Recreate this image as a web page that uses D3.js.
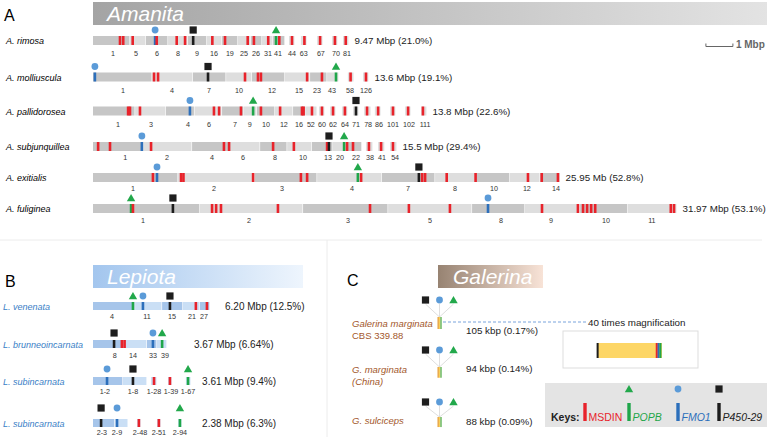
<!DOCTYPE html>
<html><head><meta charset="utf-8">
<script src="https://cdn.jsdelivr.net/npm/d3@7"></script>
<style>body{margin:0;background:#fff}svg{display:block;font-family:"Liberation Sans",Arial,sans-serif}</style>
</head><body><svg id="c" width="767" height="437"></svg>
<script>
// ---------- DATA (positions in Mbp along each assembled track) ----------
const amanitaSpecies = ["A. rimosa","A. molliuscula","A. pallidorosea","A. subjunquillea","A. exitialis","A. fuliginea"];
const amanitaSizes = ["9.47 Mbp (21.0%)","13.6 Mbp (19.1%)","13.8 Mbp (22.6%)","15.5 Mbp (29.4%)","25.95 Mb (52.8%)","31.97 Mbp (53.1%)"];
const amanitaSegments = [
  [[0,1.37],[1.37,1.96],[1.96,2.78],[2.78,3.52],[3.52,4.22],[4.22,4.78],[4.78,5.37],[5.37,5.85],[5.85,6.26],[6.26,6.67],[6.67,7.11],[7.26,7.48],[7.70,7.93],[8.30,8.52],[8.85,9.07],[9.26,9.48]],
  [[0,2.19],[2.19,3.70],[3.70,4.93],[4.93,5.89],[5.89,7.11],[7.11,8.04],[8.04,8.67],[8.67,9.11],[9.44,9.67],[10.0,10.22]],
  [[0,1.56],[1.56,2.70],[2.70,3.76],[3.76,4.78],[4.78,5.59],[5.59,6.07],[6.07,6.74],[6.74,7.41],[7.41,7.89],[7.89,8.30],[8.37,8.59],[8.78,9.00],[9.22,9.44],[9.63,9.85],[10.04,10.30],[10.44,10.67],[11.0,11.22],[11.56,11.78],[12.15,12.37]],
  [[0,1.89],[1.89,3.67],[3.67,5.07],[5.07,6.19],[6.19,7.19],[7.19,8.11],[8.11,8.89],[8.89,9.44],[9.44,9.96],[10.11,10.37],[10.56,10.81],[11.0,11.26]],
  [[0,3.15],[3.15,6.0],[6.0,8.30],[8.30,10.70],[10.70,12.67],[12.67,14.19],[14.19,15.44],[15.44,16.56],[16.56,17.30]],
  [[0,3.96],[3.96,7.78],[7.78,10.93],[10.93,14.04],[14.04,16.0],[16.0,18.04],[18.04,19.81],[19.81,21.63]]
];
const amanitaTicks = [
  [["1",0.74],["5",1.59],["6",2.37],["8",3.15],["9",3.85],["16",4.48],["19",5.07],["25",5.59],["26",6.04],["31",6.48],["41",6.85],["44",7.37],["63",7.81],["67",8.44],["70",9.00],["81",9.41]],
  [["1",1.11],["4",2.93],["7",4.30],["10",5.41],["12",6.63],["15",7.63],["23",8.30],["43",8.85],["58",9.52],["126",10.11]],
  [["1",0.93],["3",2.15],["4",3.52],["6",4.30],["7",5.26],["9",5.81],["10",6.41],["12",7.07],["16",7.63],["52",8.07],["60",8.48],["62",8.89],["64",9.33],["71",9.74],["78",10.19],["86",10.59],["101",11.11],["102",11.70],["111",12.30]],
  [["1",1.19],["2",2.74],["4",4.41],["6",5.56],["8",6.74],["10",7.78],["13",8.70],["20",9.15],["22",9.74],["38",10.26],["41",10.70],["54",11.19]],
  [["1",1.48],["2",4.48],["3",7.0],["4",9.59],["7",11.67],["8",13.41],["10",14.85],["12",16.07],["14",17.15]],
  [["1",1.85],["2",5.78],["3",9.44],["5",12.48],["8",15.11],["9",16.96],["10",19.0],["11",20.70]]
];
// M = MSDIN, P = POPB, F = FMO1, C = P450-29
const amanitaMarks = [
  [["M",1.00],["M",1.12],["M",1.47],["F",2.30],["M",2.36],["M",3.10],["M",3.41],["C",3.71],["M",4.42],["M",4.89],["M",5.73],["M",5.96],["M",6.49],["P",6.78],["M",6.90],["M",7.37],["M",7.83],["M",8.41],["M",8.96],["M",9.36]],
  [["F",0.07],["M",2.26],["M",2.41],["C",4.26],["M",5.63],["M",6.11],["M",6.22],["M",7.93],["M",8.48],["P",9.00],["M",9.54],["M",10.11]],
  [["M",1.30],["M",1.37],["M",1.74],["F",3.59],["M",4.48],["M",4.67],["M",5.48],["P",5.93],["M",6.22],["M",6.93],["M",7.74],["M",7.80],["M",8.11],["M",8.48],["M",8.89],["M",9.33],["C",9.74],["M",10.15],["M",10.56],["M",11.11],["M",11.67],["M",12.22]],
  [["M",0.19],["M",0.63],["F",1.81],["M",2.15],["M",4.85],["M",5.04],["M",6.67],["M",7.44],["M",8.67],["C",8.74],["P",9.30],["M",9.41],["M",9.63],["M",10.22],["M",10.67],["M",11.11]],
  [["M",2.22],["F",2.37],["M",3.26],["M",3.35],["M",5.93],["M",7.70],["M",7.93],["P",9.81],["M",9.93],["C",12.07],["M",12.19],["M",12.30],["M",13.10],["M",14.17],["M",16.11],["M",16.62],["M",17.22]],
  [["P",1.41],["M",1.48],["C",2.96],["M",4.41],["M",4.56],["M",4.74],["M",6.85],["M",10.26],["M",11.70],["M",13.22],["F",14.63],["M",16.63],["M",17.96],["M",18.15],["M",18.30],["M",18.45],["M",18.60],["M",21.40],["M",21.52]]
];

const lepiotaSpecies = ["L. venenata","L. brunneoincarnata","L. subincarnata","L. subincarnata"];
const lepiotaSizes = ["6.20 Mbp (12.5%)","3.67 Mbp (6.64%)","3.61 Mbp (9.4%)","2.38 Mbp (6.3%)"];
const lepiotaSegments = [
  [[0,1.56],[1.56,2.56],[2.56,3.33],[3.33,3.96],[3.96,4.33]],
  [[0,1.07],[1.07,2.0],[2.0,2.37],[2.37,2.74]],
  [[0,1.11],[1.11,2.0],[2.15,2.37],[2.78,2.93],[3.44,3.63]],
  [[0,0.81],[0.81,1.30],[1.63,1.78],[2.37,2.52],[3.15,3.30]]
];
const lepiotaTicks = [
  [["4",0.70],["11",2.0],["15",2.93],["21",3.67],["27",4.11]],
  [["8",0.81],["14",1.48],["33",2.22],["39",2.67]],
  [["1-2",0.44],["1-8",1.48],["1-28",2.26],["1-39",2.89],["1-67",3.52]],
  [["2-3",0.33],["2-9",0.89],["2-48",1.74],["2-51",2.44],["2-94",3.22]]
];
const lepiotaMarks = [
  [["P",1.48],["F",1.85],["C",2.85],["M",3.81],["M",4.22]],
  [["C",0.78],["M",1.07],["M",1.17],["F",2.22],["P",2.56]],
  [["F",0.52],["C",1.48],["M",2.26],["M",2.85],["P",3.52]],
  [["C",0.30],["F",0.89],["M",1.70],["M",2.44],["P",3.22]]
];

const galerinaStrains = [["Galerina marginata","CBS 339.88"],["G. marginata","(China)"],["G. sulciceps"]];
const galerinaKbp = [105, 94, 88];
const galerinaSizes = ["105 kbp (0.17%)","94 kbp (0.14%)","88 kbp (0.09%)"];
const magnifiedMarks = [["C",1],["M",96.5],["F",99.5],["P",102.5]];
const legendKeys = [["M","MSDIN"],["P","POPB"],["F","FMO1"],["C","P450-29"]];

// ---------- LAYOUT / STYLE ----------
const W = 767, H = 437;
const markColor = {M:"#e8232b", P:"#1fa64a", F:"#2c6fbb", C:"#1c1c1c"};
const iconColor = {P:"#22a84b", F:"#5b9bd8", C:"#1e1e1e"};
const amanitaRowY = [40.5, 77, 111, 146.5, 177.5, 208.5];
const amanitaTickDy = [15.5, 16, 16, 13, 13.5, 14.5];
const lepiotaRowY = [306, 344, 381, 423];
const lepiotaIconDy = [-10, -11, -12, -15];
const lepiotaTickDy = [12.5, 14, 13, 11.5];
const lepiotaSizeX = [4.89, 3.74, 4.04, 4.04];

const svg = d3.select("#c");
const defs = svg.append("defs");
function grad(id, c0, c1){
  const g = defs.append("linearGradient").attr("id", id);
  g.append("stop").attr("offset","0%").attr("stop-color",c0);
  g.append("stop").attr("offset","100%").attr("stop-color",c1);
}
grad("gA","#a4a4a4","#e3e3e3");
grad("gB","#a3c6ee","#eef5fd");
grad("gC","#978372","#f8e3d7");

const xs = d3.scaleLinear().domain([0, 25]).range([93, 768]);

function icon(g, type, x, y){
  if(type==="F") g.append("circle").attr("cx",x).attr("cy",y).attr("r",3.4).attr("fill",iconColor.F);
  else if(type==="P") g.append("path").attr("d",`M${x},${y-4}L${x+4.2},${y+3.2}L${x-4.2},${y+3.2}Z`).attr("fill",iconColor.P);
  else if(type==="C") g.append("rect").attr("x",x-3.6).attr("y",y-3.6).attr("width",7.2).attr("height",7.2).attr("fill",iconColor.C);
}

function track(g, y, segs, marks, ticks, dark, light, h, tickDy, iconDy){
  let shade = 0, prev = null;
  segs.forEach(([s,e]) => {
    if(prev !== null){ shade = (s - prev > 0.02) ? 1 : 1 - shade; }
    prev = e;
    g.append("rect").attr("x", xs(s)).attr("y", y - h/2).attr("width", Math.max(0.5, xs(e) - xs(s) - 0.6))
      .attr("height", h).attr("fill", shade ? light : dark);
  });
  marks.forEach(([t,p]) => {
    g.append("rect").attr("x", xs(p) - 1.3).attr("y", y - h/2).attr("width", 2.6).attr("height", h)
      .attr("fill", markColor[t]);
    if(t !== "M") icon(g, t, xs(p), y + iconDy);
  });
  ticks.forEach(([lab,p]) => {
    g.append("text").attr("x", xs(p)).attr("y", y + tickDy).attr("text-anchor","middle")
      .attr("font-size", 7.2).attr("fill","#333").text(lab);
  });
}

function titleBar(x0, x1, y0, y1, fill, label, tx){
  svg.append("rect").attr("x",x0).attr("y",y0).attr("width",x1-x0).attr("height",y1-y0).attr("fill",fill);
  svg.append("text").attr("x",tx).attr("y",y1-4).attr("fill","#fff").attr("font-style","italic")
    .attr("font-size",21).text(label);
}

// dividers
svg.append("line").attr("x1",0).attr("x2",762).attr("y1",240).attr("y2",240).attr("stroke","#ececec");
svg.append("line").attr("x1",327).attr("x2",327).attr("y1",240).attr("y2",H).attr("stroke","#ececec");

// ---------- PANEL A ----------
svg.append("text").attr("x",4).attr("y",21).attr("font-size",16).text("A");
titleBar(93, W, 2, 25, "url(#gA)", "Amanita", 107);
const gA = svg.append("g");
amanitaSpecies.forEach((sp, i) => {
  const y = amanitaRowY[i];
  gA.append("text").attr("x",6).attr("y",y+3.5).attr("font-size",9).attr("font-style","italic").text(sp);
  track(gA, y, amanitaSegments[i], amanitaMarks[i], amanitaTicks[i], "#c6c6c6", "#dedede", 9, amanitaTickDy[i], -10.5);
  const end = amanitaSegments[i][amanitaSegments[i].length-1][1];
  gA.append("text").attr("x", xs(end)+5.5).attr("y", y+3.8).attr("font-size",9.8).attr("fill","#222").text(amanitaSizes[i]);
});
// scale bar 1 Mbp
const sb0 = 22.7, sbY = 46.5;
gA.append("path").attr("d",`M${xs(sb0)},${sbY-3}V${sbY}H${xs(sb0+1)}V${sbY-3}`).attr("fill","none").attr("stroke","#666").attr("stroke-width",1);
gA.append("text").attr("x", xs(sb0+1)+3).attr("y", sbY+1.5).attr("font-size",10).attr("font-weight","bold").attr("fill","#666").text("1 Mbp");

// ---------- PANEL B ----------
svg.append("text").attr("x",5).attr("y",287).attr("font-size",16).text("B");
titleBar(93, 303, 265, 288, "url(#gB)", "Lepiota", 107);
const gB = svg.append("g");
lepiotaSpecies.forEach((sp, i) => {
  const y = lepiotaRowY[i];
  gB.append("text").attr("x",3).attr("y",y+4).attr("font-size",9).attr("font-style","italic").attr("fill","#3a80c6").text(sp);
  track(gB, y, lepiotaSegments[i], lepiotaMarks[i], lepiotaTicks[i], "#a6c5ea", "#cadff5", 8, lepiotaTickDy[i], lepiotaIconDy[i]);
  gB.append("text").attr("x", xs(lepiotaSizeX[i])).attr("y", y+4).attr("font-size",10).attr("fill","#222").text(lepiotaSizes[i]);
});

// ---------- PANEL C ----------
svg.append("text").attr("x",347).attr("y",286).attr("font-size",16).text("C");
titleBar(438, 543, 265, 288, "url(#gC)", "Galerina", 453);
const gC = svg.append("g");
const galIconY = [300, 350, 402];
const galBarTop = [317, 367, 417];
const galLabelY = [327, 373, 424];
const galSizeY = [334, 372, 425];
const galX = 439.5;
const hs = d3.scaleLinear().domain([0, 105]).range([0, 12]);
const stripeColors = ["#e8a03a", "#f6d05a", "#62b45a"];
galerinaStrains.forEach((lines, i) => {
  const iy = galIconY[i], top = galBarTop[i];
  [["C",-14],["F",0],["P",14]].forEach(([t,dx]) => {
    gC.append("line").attr("x1", galX+dx).attr("y1", iy+4).attr("x2", galX).attr("y2", top)
      .attr("stroke","#c8c8c8").attr("stroke-width",0.6);
    icon(gC, t, galX+dx, iy);
  });
  stripeColors.forEach((c, k) => {
    gC.append("rect").attr("x", galX-2+k*1.4).attr("y", top).attr("width",1.4).attr("height", hs(galerinaKbp[i])).attr("fill", c);
  });
  lines.forEach((ln, k) => {
    gC.append("text").attr("x",352).attr("y", galLabelY[i] + k*12)
      .attr("font-size",9.5).attr("fill","#a3582b")
      .attr("font-style", (i===0 && k===1) ? "normal" : "italic").text(ln);
  });
  gC.append("text").attr("x",466).attr("y",galSizeY[i]).attr("font-size",9.8).attr("fill","#222").text(galerinaSizes[i]);
});
// magnification
gC.append("line").attr("x1",443).attr("x2",588).attr("y1",322).attr("y2",322)
  .attr("stroke","#6a98d8").attr("stroke-width",0.9).attr("stroke-dasharray","3,2");
gC.append("text").attr("x",588).attr("y",325.5).attr("font-size",9.8).attr("fill","#222").text("40 times magnification");
gC.append("rect").attr("x",563).attr("y",331).attr("width",135).attr("height",37).attr("fill","none").attr("stroke","#dddddd");
const ms = d3.scaleLinear().domain([0, 105]).range([597, 662]);
gC.append("rect").attr("x",ms(0)).attr("y",343).attr("width",ms(105)-ms(0)).attr("height",15).attr("fill","#fdd666");
magnifiedMarks.forEach(([t,p]) => {
  gC.append("rect").attr("x", ms(p)-1).attr("y",343).attr("width",2).attr("height",15).attr("fill",markColor[t]);
});

// legend keys
gC.append("rect").attr("x",545).attr("y",383).attr("width",W-545).attr("height",44).attr("fill","#e4e4e4");
gC.append("text").attr("x",551).attr("y",421).attr("font-size",10.5).attr("font-weight","bold").attr("fill","#222").text("Keys:");
const keyX = [585, 629, 678, 719];
legendKeys.forEach(([t,lab], i) => {
  const x = keyX[i];
  gC.append("rect").attr("x",x-1.7).attr("y",403).attr("width",3.4).attr("height",18).attr("fill",markColor[t]);
  if(t !== "M") icon(gC, t, x, 389);
  gC.append("text").attr("x",x+3.5).attr("y",421).attr("font-size",10.5)
    .attr("font-style", t==="M" ? "normal" : "italic").attr("fill", t==="C" ? "#222" : markColor[t]).text(lab);
});
</script>
</body></html>
